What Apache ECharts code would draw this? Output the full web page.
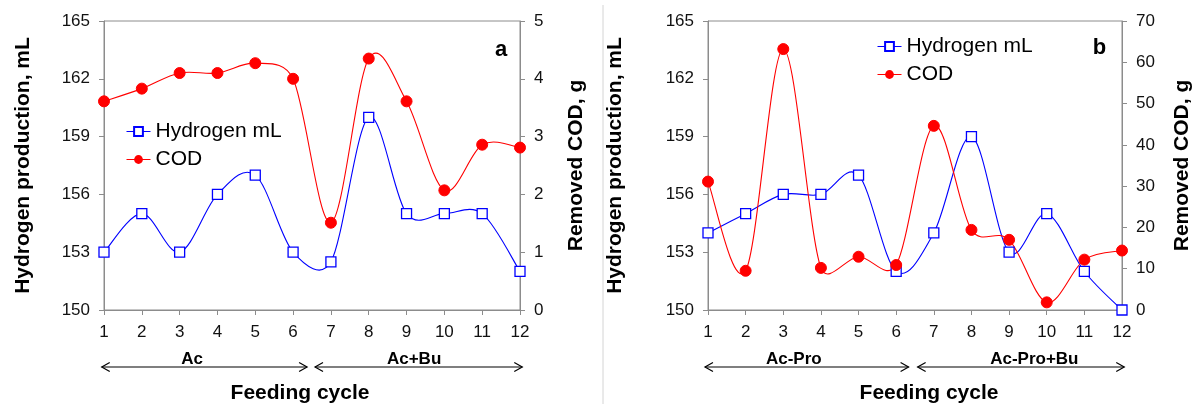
<!DOCTYPE html>
<html>
<head>
<meta charset="utf-8">
<script src="https://cdn.jsdelivr.net/npm/echarts@6/dist/echarts.min.js"></script>
<style>html,body{margin:0;padding:0;background:#fff;}#c{width:1194px;height:404px;}</style>
</head>
<body>
<div id="c"></div>
<script>
var categories = ['1','2','3','4','5','6','7','8','9','10','11','12'];
var hydrogenA = [153, 155, 153, 156, 157, 153, 152.5, 160, 155, 155, 155, 152];
var codA = [3.61, 3.83, 4.10, 4.10, 4.27, 4.00, 1.51, 4.35, 3.61, 2.07, 2.86, 2.81];
var hydrogenB = [154, 155, 156, 156, 157, 152, 154, 159, 153, 155, 152, 150];
var codB = [31.1, 9.5, 63.2, 10.2, 12.9, 10.9, 44.6, 19.4, 17.0, 1.85, 12.2, 14.4];
var phasesA = ['Ac', 'Ac+Bu'];
var phasesB = ['Ac-Pro', 'Ac-Pro+Bu'];
var panelLetters = ['a', 'b'];
var leftTicks = {min: 150, max: 165, interval: 3};
var rightTicksA = {min: 0, max: 5, interval: 1};
var rightTicksB = {min: 0, max: 70, interval: 10};

var FONT = "'Liberation Sans', Arial, sans-serif";
var AX = '#8c8c8c';
var BLUE = '#0000ff', RED = '#ff0000';

function xAxisCfg(gi) {
  return {
    type: 'category', gridIndex: gi, data: categories, boundaryGap: false,
    axisLine: {lineStyle: {color: AX}},
    axisTick: {show: true, alignWithLabel: true, length: 5, lineStyle: {color: AX}},
    axisLabel: {color: '#111', fontSize: 17, fontFamily: FONT, margin: 14},
    splitLine: {show: false}
  };
}
function yAxisCfg(gi, pos, t, name, gap) {
  return {
    type: 'value', gridIndex: gi, position: pos, min: t.min, max: t.max, interval: t.interval,
    name: name, nameLocation: 'middle', nameGap: gap, nameRotate: 90,
    nameTextStyle: {fontSize: 21, fontWeight: 'bold', fontFamily: FONT, color: '#000'},
    axisLine: {show: true, lineStyle: {color: AX}},
    axisTick: {show: true, length: 5, lineStyle: {color: AX}},
    axisLabel: {color: '#111', fontSize: 17, fontFamily: FONT, margin: 14},
    splitLine: {show: false}
  };
}
function dist(a, b) { return Math.sqrt((a[0] - b[0]) * (a[0] - b[0]) + (a[1] - b[1]) * (a[1] - b[1])); }
function ctrl(from, to, segLen) {
  var vx = (to[0] - from[0]) / 6, vy = (to[1] - from[1]) / 6;
  var len = Math.sqrt(vx * vx + vy * vy), cap = 0.5 * segLen;
  if (len > cap && len > 0) { vx *= cap / len; vy *= cap / len; }
  return [vx, vy];
}
// Smoothed curve through the data (spreadsheet-style Bezier), positioned via the axes
function curveSeries(xi, yi, data, color) {
  return {
    name: '_curve', type: 'custom', xAxisIndex: xi, yAxisIndex: yi, silent: true,
    data: data.map(function (v, k) { return [k, v]; }),
    renderItem: function (params, api) {
      if (params.dataIndex !== 0) return;
      var pts = data.map(function (v, k) { return api.coord([k, v]); });
      var n = pts.length, kids = [];
      for (var i = 0; i < n - 1; i++) {
        var p0 = pts[Math.max(i - 1, 0)], p1 = pts[i], p2 = pts[i + 1], p3 = pts[Math.min(i + 2, n - 1)];
        var d12 = dist(p1, p2);
        var c1 = ctrl(p0, p2, d12), c2 = ctrl(p1, p3, d12);
        kids.push({
          type: 'bezierCurve',
          shape: {
            x1: p1[0], y1: p1[1], x2: p2[0], y2: p2[1],
            cpx1: p1[0] + c1[0], cpy1: p1[1] + c1[1],
            cpx2: p2[0] - c2[0], cpy2: p2[1] - c2[1]
          },
          style: {stroke: color, lineWidth: 1.1, fill: null}
        });
      }
      return {type: 'group', children: kids};
    }
  };
}
function hSeries(xi, yi, data) {
  return {
    name: 'Hydrogen mL', type: 'line', xAxisIndex: xi, yAxisIndex: yi, data: data,
    symbol: 'rect', symbolSize: 10,
    lineStyle: {color: BLUE, width: 1, opacity: 0},
    itemStyle: {color: '#fff', borderColor: BLUE, borderWidth: 1.3}
  };
}
function cSeries(xi, yi, data) {
  return {
    name: 'COD', type: 'line', xAxisIndex: xi, yAxisIndex: yi, data: data,
    symbol: 'circle', symbolSize: 11,
    lineStyle: {color: RED, width: 1, opacity: 0},
    itemStyle: {color: RED, borderColor: RED}
  };
}
function legendCfg(left, top) {
  return {
    left: left, top: top, orient: 'vertical', itemWidth: 24, itemHeight: 11, itemGap: 7,
    textStyle: {fontSize: 21, fontFamily: FONT, color: '#000'},
    lineStyle: {opacity: 1, width: 1},
    data: ['Hydrogen mL', 'COD']
  };
}

var chart = echarts.init(document.getElementById('c'), null, {renderer: 'canvas'});
chart.setOption({
  animation: false,
  backgroundColor: '#fff',
  grid: [
    {left: 104, right: 674, top: 21, bottom: 94, show: true, borderColor: AX, borderWidth: 1, backgroundColor: 'transparent'},
    {left: 708, right: 71, top: 21, bottom: 94, show: true, borderColor: AX, borderWidth: 1, backgroundColor: 'transparent'}
  ],
  xAxis: [xAxisCfg(0), xAxisCfg(1)],
  yAxis: [
    yAxisCfg(0, 'left', leftTicks, 'Hydrogen production, mL', 70),
    yAxisCfg(0, 'right', rightTicksA, 'Removed COD, g', 46),
    yAxisCfg(1, 'left', leftTicks, 'Hydrogen production, mL', 82),
    yAxisCfg(1, 'right', rightTicksB, 'Removed COD, g', 50)
  ],
  legend: [legendCfg(121, 116), legendCfg(872, 31)],
  series: [
    curveSeries(0, 0, hydrogenA, BLUE), curveSeries(0, 1, codA, RED),
    curveSeries(1, 2, hydrogenB, BLUE), curveSeries(1, 3, codB, RED),
    hSeries(0, 0, hydrogenA), cSeries(0, 1, codA),
    hSeries(1, 2, hydrogenB), cSeries(1, 3, codB)
  ]
});

// annotations positioned via the axes
function catX(ax, f) {
  var p0 = chart.convertToPixel({xAxisIndex: ax}, categories[0]);
  var p1 = chart.convertToPixel({xAxisIndex: ax}, categories[1]);
  return p0 + f * (p1 - p0);
}
var yAxisBase = chart.convertToPixel({yAxisIndex: 0}, leftTicks.min);
var arrowY = yAxisBase + 57;
var phaseTextY = yAxisBase + 49;
var titleY = yAxisBase + 83;

function arrow(x1, x2, y) {
  var h = 8, v = 4.5, st = {stroke: '#000', lineWidth: 1.2, fill: null};
  return [
    {type: 'line', shape: {x1: x1, y1: y, x2: x2, y2: y}, style: st, silent: true},
    {type: 'polyline', shape: {points: [[x1 + h, y - v], [x1, y], [x1 + h, y + v]]}, style: st, silent: true},
    {type: 'polyline', shape: {points: [[x2 - h, y - v], [x2, y], [x2 - h, y + v]]}, style: st, silent: true}
  ];
}
function txt(x, y, s, size) {
  return {type: 'text', x: x, y: y, silent: true,
    style: {text: s, fontSize: size, fontWeight: 'bold', fontFamily: FONT, fill: '#000', align: 'center', verticalAlign: 'middle'}};
}
var g = [];
var panels = [
  {ax: 0, phases: phasesA, a1: [-0.06, 5.37], a2: [5.58, 11.06], t: [2.33, 8.2]},
  {ax: 1, phases: phasesB, a1: [-0.08, 5.33], a2: [5.57, 11.06], t: [2.28, 8.67]}
];
panels.forEach(function (p, i) {
  g = g.concat(arrow(catX(p.ax, p.a1[0]), catX(p.ax, p.a1[1]), arrowY));
  g = g.concat(arrow(catX(p.ax, p.a2[0]), catX(p.ax, p.a2[1]), arrowY));
  g.push(txt(catX(p.ax, p.t[0]), phaseTextY, p.phases[0], 17));
  g.push(txt(catX(p.ax, p.t[1]), phaseTextY, p.phases[1], 17));
  g.push(txt(catX(p.ax, 5.5) - 12 + (i ? 26 : 0), titleY, 'Feeding cycle', 21));
});
g.push(txt(catX(0, 10.5), 50, panelLetters[0], 22));
g.push(txt(catX(1, 10.4), 48, panelLetters[1], 22));
g.push({type: 'line', shape: {x1: 603, y1: 5, x2: 603, y2: 404}, style: {stroke: '#d4d4d4', lineWidth: 1}, silent: true});
chart.setOption({graphic: g});
</script>
</body>
</html>
